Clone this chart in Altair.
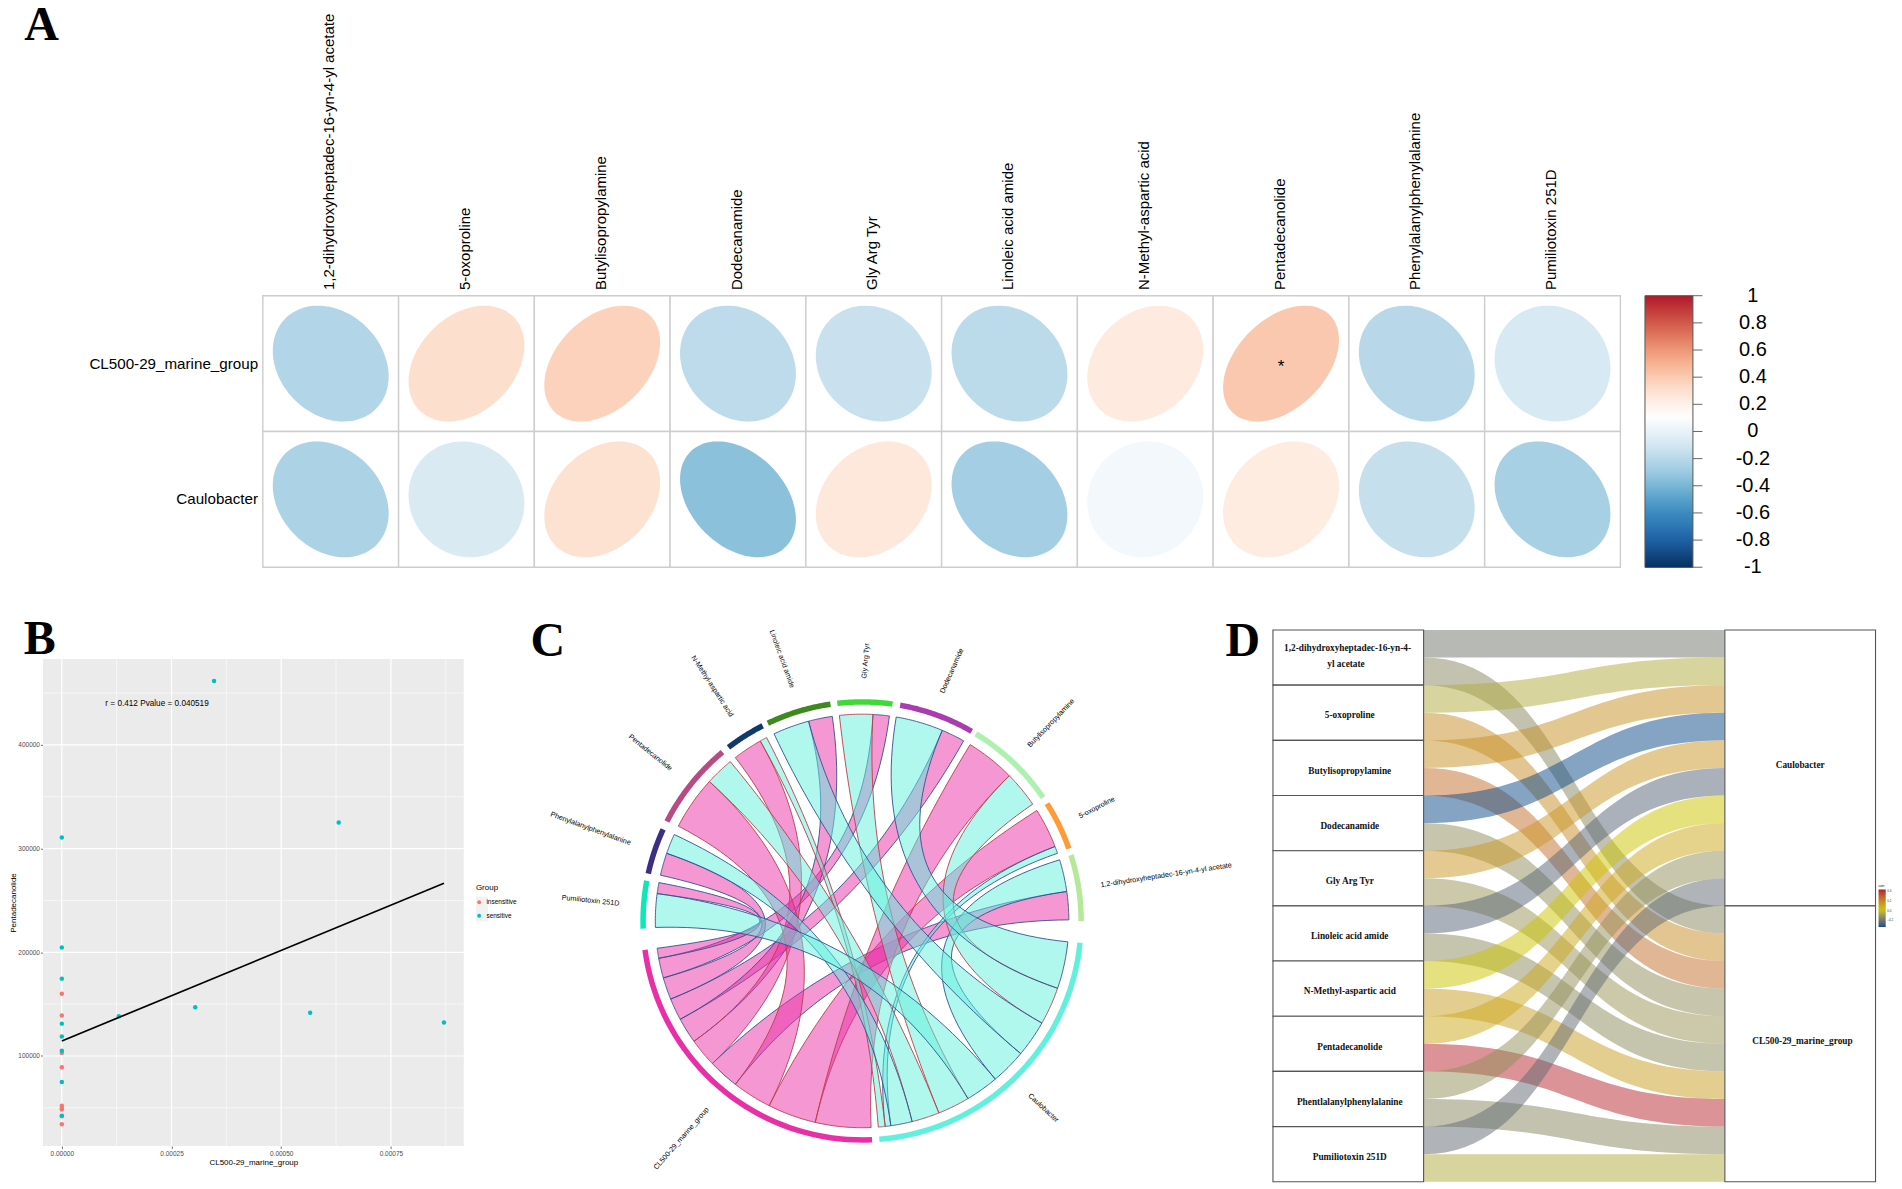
import math
import numpy as np
import pandas as pd
import altair as alt

SANS = "Liberation Sans"
SERIF = "Liberation Serif"

# ---------- data ----------
metabolites = ["1,2-dihydroxyheptadec-16-yn-4-yl acetate", "5-oxoproline", "Butylisopropylamine",
               "Dodecanamide", "Gly Arg Tyr", "Linoleic acid amide", "N-Methyl-aspartic acid",
               "Pentadecanolide", "Phenylalanylphenylalanine", "Pumiliotoxin 251D"]
genera = ["CL500-29_marine_group", "Caulobacter"]
corr_cl500 = [-0.22, 0.31, 0.37, -0.18, -0.14, -0.19, 0.24, 0.41, -0.20, -0.08]
corr_caulo = [-0.24, -0.07, 0.29, -0.35, 0.25, -0.27, 0.05, 0.23, -0.15, -0.255]
corr_stops = [-1, -0.778, -0.556, -0.333, -0.111, 0.111, 0.333, 0.556, 0.778, 1]
corr_colors = ["#053061", "#2166AC", "#4393C3", "#92C5DE", "#D1E5F0", "#FFFFFF", "#FDDBC7", "#F4A582", "#D6604D", "#B2182B"]
bar_ticks = [-1, -0.8, -0.6, -0.4, -0.2, 0, 0.2, 0.4, 0.6, 0.8, 1]
bar_labels = ["-1", "-0.8", "-0.6", "-0.4", "-0.2", "0", "0.2", "0.4", "0.6", "0.8", "1"]

# B: scatter
sens_x = [0.000347, 0.000631, 0.00013, 0.000304, 0.000566, 0.000871, 0, 0, 0, 0, 0, 0, 0, 0]
sens_y = [461500, 325100, 138400, 147100, 141700, 132200, 310600, 204600, 174600, 131200, 118900, 105100, 75000, 42500]
insens_x = [0, 0, 0, 0, 0, 0, 0, 0, 0]
insens_y = [160100, 139100, 103000, 89200, 52000, 49800, 48300, 41800, 34200]
fit_x = [0, 0.000871]
fit_y = [114500, 266500]

# C: chord. Sector limits in degrees, counter-clockwise from the +x axis
sector_names = ["1,2-dihydroxyheptadec-16-yn-4-yl acetate", "5-oxoproline", "Butylisopropylamine", "Dodecanamide",
                "Gly Arg Tyr", "Linoleic acid amide", "N-Methyl-aspartic acid", "Pentadecanolide",
                "Phenylalanylphenylalanine", "Pumiliotoxin 251D", "CL500-29_marine_group", "Caulobacter"]
sector_start = [0, 19.3, 34.3, 60, 82, 98.3, 117, 129.6, 155.3, 169.4, 187.6, 274.5]
sector_end = [17.5, 32.4, 58.7, 80, 96.5, 115.5, 127.6, 153, 167.5, 182, 272.6, 354.3]
sector_colors = ["#B6E89A", "#FF9A38", "#AEF0B0", "#A93DB0", "#3FD93A", "#3E8A1E", "#103A6E", "#B84C82", "#3C2D85",
                 "#0DE8BA", "#E92FA8", "#62F0DE"]
label_x = [304.4, 235, 189.2, 90, 3.7, -80.3, -150, -212, -271.8, -271.8, -180.9, 181.4]
label_y = [45.8, 113.4, 198, 250.4, 260.3, 262.2, 234.9, 168.4, 92.3, 20.3, -217.9, -187.2]
label_angle = [-8.7, -27, -46, -66, -85, 70, 57, 39, 20, 6, -49, 43]
# link ends on the metabolite sector (low, high) and on the genus sector (low, high)
pink_from = [(0.3, 8.2), (21.1, 32.3), (44.6, 58.5), (60.6, 67.2), (82.4, 87), (98.3, 105), (119.5, 127.8), (137.6, 152.7), (160.9, 167.2), (169.3, 172.4)]
pink_to = [(223.6, 232.2), (243.3, 256.9), (256.9, 272.5), (202.2, 208.4), (190.4, 196), (208.4, 215.6), (215.6, 223.6), (232.2, 243.3), (196, 202.2), (187.6, 190.4)]
cyan_from = [(8.2, 17.2), (19.1, 21.1), (34.4, 44.6), (67.2, 80.5), (87, 96.3), (105, 115.2), (117.5, 119.5), (129.6, 137.6), (155.3, 160.9), (172.4, 181.8)]
cyan_to = [(310.1, 320.1), (276.4, 278), (330.4, 341), (341, 354.2), (291.8, 300.8), (320.1, 330.4), (274.5, 276.4), (284, 291.8), (278, 284), (300.8, 310.1)]

# D: alluvial
d_labels = [["1,2-dihydroxyheptadec-16-yn-4-", "yl acetate"], ["5-oxoproline"], ["Butylisopropylamine"], ["Dodecanamide"],
            ["Gly Arg Tyr"], ["Linoleic acid amide"], ["N-Methyl-aspartic acid"], ["Pentadecanolide"],
            ["Phentlalanylphenylalanine"], ["Pumiliotoxin 251D"]]
d_corr_caulo = [-0.20, -0.05, 0.17, -0.335, 0.15, -0.25, 0.02, 0.10, -0.12, -0.23]
d_corr_cl500 = [-0.15, 0.18, 0.26, -0.13, -0.11, -0.14, 0.13, 0.41, -0.15, -0.05]
d_stops = [-0.335, 0.02, 0.43]
d_colors = ["#0B4987", "#CCC400", "#B5172F"]

RIGHT, ROW_TOP, ROW_BOTTOM, PLOT_TOP = 1894, 600, 1182, 658.2


def anchor(px0, py0, px1, py1, vx, vy):
    """Invisible rect that fixes a panel's bounding box on the page."""
    return alt.Chart(pd.DataFrame({"a": [0]})).mark_rect(opacity=0).encode(
        x=alt.value(px0 - vx), x2=alt.value(px1 - vx), y=alt.value(py0 - vy), y2=alt.value(py1 - vy))


def letter(s, px, py, vx, vy):
    return alt.Chart(pd.DataFrame({"t": [s]})).mark_text(
        font=SERIF, fontWeight="bold", fontSize=48, color="black", align="center", baseline="middle"
    ).encode(text="t:N", x=alt.value(px - vx), y=alt.value(py - vy))


# ---------- A ----------
AX, AY, AC = 262.4, 295.4, 135.9
AVX, AVY = 42.3, 8
ax_s = alt.Scale(domain=[(AVX - AX) / AC, (RIGHT - AX) / AC], nice=False, zero=False)
ay_s = alt.Scale(domain=[2 - (ROW_TOP - AY) / AC, 2 + (AY - AVY) / AC], nice=False, zero=False)
cells, ell = [], []
tt = np.linspace(0, 2 * np.pi, 90, endpoint=False)
for r, vals in enumerate([corr_cl500, corr_caulo]):
    for c, v in enumerate(vals):
        cells.append(dict(x0=c, x1=c + 1, y0=2 - r - 1, y1=2 - r))
        d = math.acos(v)
        for k, t in enumerate(tt):
            ell.append(dict(id=f"{r}-{c}", k=k, v=v, x=c + .5 + .4268 * math.cos(t + d / 2),
                            y=1.5 - r + .4268 * math.cos(t - d / 2)))
cell_df = pd.DataFrame(cells)
ell_df = pd.DataFrame(ell)
a_cells = alt.Chart(cell_df).mark_rect(fill="white", stroke="#CDCDCD", strokeWidth=1.4).encode(
    x=alt.X("x0:Q", scale=ax_s, axis=None), x2="x1:Q",
    y=alt.Y("y0:Q", scale=ay_s, axis=None), y2="y1:Q")
a_ell = alt.Chart(ell_df).mark_line(interpolate="linear-closed", strokeWidth=0).encode(
    x=alt.X("x:Q", scale=ax_s, axis=None), y=alt.Y("y:Q", scale=ay_s, axis=None),
    detail="id:N", order="k:Q",
    fill=alt.Fill("v:Q", scale=alt.Scale(domain=corr_stops, range=corr_colors, interpolate="rgb"),
                  legend=alt.Legend(type="gradient", orient="none", legendX=1646 - AVX, legendY=AY - AVY, title=None,
                                    gradientLength=272, gradientThickness=48, values=bar_ticks,
                                    labelExpr="''", labelFontSize=1,
                                    gradientStrokeColor="#555555", gradientStrokeWidth=1, padding=0, labelOverlap=False)))
a_top = alt.Chart(pd.DataFrame({"t": metabolites, "x": [i + .49 for i in range(10)], "y": [2.042] * 10})).mark_text(
    font=SANS, fontSize=15, angle=270, align="left", baseline="middle", color="black"
).encode(text="t:N", x=alt.X("x:Q", scale=ax_s, axis=None), y=alt.Y("y:Q", scale=ay_s, axis=None))
a_left = alt.Chart(pd.DataFrame({"t": genera, "x": [-0.035, -0.035], "y": [1.5, 0.5]})).mark_text(
    font=SANS, fontSize=15.2, align="right", baseline="middle", color="black"
).encode(text="t:N", x=alt.X("x:Q", scale=ax_s, axis=None), y=alt.Y("y:Q", scale=ay_s, axis=None))
a_star = alt.Chart(pd.DataFrame({"t": ["*"], "x": [7.5], "y": [1.475]})).mark_text(
    font=SANS, fontSize=17, align="center", baseline="middle", color="black"
).encode(text="t:N", x=alt.X("x:Q", scale=ax_s, axis=None), y=alt.Y("y:Q", scale=ay_s, axis=None))
bar_df = pd.DataFrame({"y": [1 + v for v in bar_ticks], "t": bar_labels})
a_bar_ticks = alt.Chart(bar_df).mark_rule(color="#666666", strokeWidth=1).encode(
    x=alt.value(1694 - AVX), x2=alt.value(1703.5 - AVX),
    y=alt.Y("y:Q", scale=ay_s, axis=None))
a_bar_text = alt.Chart(bar_df).mark_text(font=SANS, fontSize=20, color="black", align="center", baseline="middle").encode(
    text="t:N", x=alt.value(1754 - AVX), y=alt.Y("y:Q", scale=ay_s, axis=None))
panel_a = alt.layer(
    a_cells, a_ell, a_top, a_left, a_star, a_bar_ticks, a_bar_text,
    letter("A", 41, 25, AVX, AVY)
).properties(width=RIGHT - AVX, height=ROW_TOP - AVY)

# ---------- B ----------
BX, BY, BW, BH = 42.3, PLOT_TOP, 421.2, 487.6
bx_s = alt.Scale(domain=[-0.000043, 0.000916], nice=False, zero=False)
by_s = alt.Scale(domain=[13200, 482850], nice=False, zero=False)
b_xaxis = alt.Axis(
    values=[0, 0.00025, 0.0005, 0.00075], format=".5f", title="CL500-29_marine_group", grid=False,
    domain=False, tickColor="#333333", tickSize=2.5, tickWidth=0.7,
    labelColor="#4D4D4D", labelFontSize=6.5, labelFont=SANS, labelPadding=1.5, titleFont=SANS, titleFontSize=8,
    titleFontWeight="normal", titleColor="black", titlePadding=2, labelFlush=False)
b_yaxis = alt.Axis(
    values=[100000, 200000, 300000, 400000], format="d", title="Pentadecanolide", grid=False,
    domain=False, tickColor="#333333", tickSize=2.5, tickWidth=0.7,
    labelColor="#4D4D4D", labelFontSize=6.5, labelFont=SANS, labelPadding=1, titleFont=SANS, titleFontSize=8,
    titleFontWeight="normal", titleColor="black", titlePadding=0, labelFlush=False)
pts = pd.DataFrame({"x": insens_x + sens_x, "y": insens_y + sens_y,
                    "Group": ["insensitive"] * len(insens_x) + ["sensitive"] * len(sens_x)})
minor_x = pd.DataFrame({"v": [0.000125, 0.000375, 0.000625, 0.000875]})
minor_y = pd.DataFrame({"v": [50000, 150000, 250000, 350000, 450000]})
b_base = alt.Chart(pd.DataFrame({"a": [0]})).mark_rect(fill="#EBEBEB").encode(
    x=alt.value(0), x2=alt.value(BW), y=alt.value(0), y2=alt.value(BH))
b_mx = alt.Chart(minor_x).mark_rule(color="white", strokeWidth=0.6).encode(x=alt.X("v:Q", scale=bx_s, axis=b_xaxis))
b_my = alt.Chart(minor_y).mark_rule(color="white", strokeWidth=0.6).encode(y=alt.Y("v:Q", scale=by_s, axis=b_yaxis))
b_grid_x = alt.Chart(pd.DataFrame({"v": [0, 0.00025, 0.0005, 0.00075]})).mark_rule(color="white", strokeWidth=1.2).encode(
    x=alt.X("v:Q", scale=bx_s, axis=b_xaxis))
b_grid_y = alt.Chart(pd.DataFrame({"v": [100000, 200000, 300000, 400000]})).mark_rule(color="white", strokeWidth=1.2).encode(
    y=alt.Y("v:Q", scale=by_s, axis=b_yaxis))
b_pts = alt.Chart(pts).mark_circle(size=20, opacity=1).encode(
    x=alt.X("x:Q", scale=bx_s, axis=b_xaxis),
    y=alt.Y("y:Q", scale=by_s, axis=b_yaxis),
    color=alt.Color("Group:N", scale=alt.Scale(domain=["insensitive", "sensitive"], range=["#F8766D", "#00BFC4"]),
                    legend=alt.Legend(orient="none", legendX=475.7 - BX, legendY=884 - BY, title="Group", padding=0,
                                      titleFont=SANS, titleFontSize=8, titleFontWeight="normal", titleColor="black",
                                      labelFont=SANS, labelFontSize=6.5, labelColor="black", symbolSize=15,
                                      symbolType="circle", rowPadding=6.5, symbolOffset=0, titlePadding=6.5)))
b_line = alt.Chart(pd.DataFrame({"x": fit_x, "y": fit_y})).mark_line(color="black", strokeWidth=1.7).encode(
    x=alt.X("x:Q", scale=bx_s, axis=b_xaxis), y=alt.Y("y:Q", scale=by_s, axis=b_yaxis))
b_txt = alt.Chart(pd.DataFrame({"t": ["r = 0.412  Pvalue = 0.040519"], "x": [0.000217], "y": [439800]})).mark_text(
    font=SANS, fontSize=8.2, color="black", align="center", baseline="middle"
).encode(text="t:N", x=alt.X("x:Q", scale=bx_s, axis=b_xaxis), y=alt.Y("y:Q", scale=by_s, axis=b_yaxis))
b_key = alt.Chart(pd.DataFrame({"a": [0]})).mark_rect(fill="#F2F2F2").encode(
    x=alt.value(475.7 - BX), x2=alt.value(487.8 - BX), y=alt.value(896 - BY), y2=alt.value(921 - BY))
panel_b = alt.layer(anchor(8, ROW_TOP, 525, ROW_BOTTOM, BX, BY), b_base, b_mx, b_my, b_grid_x, b_grid_y, b_key, b_pts, b_line, b_txt,
                    letter("B", 39, 639, BX, BY)).properties(width=BW, height=BH)

# ---------- C ----------
CCX, CCY, CR = 862, 920.5, 207
CVX, CVR = 525, 1262
CH = ROW_BOTTOM - PLOT_TOP
cxs = alt.Scale(domain=[CVX - CCX, CVR - CCX], nice=False, zero=False)
cys = alt.Scale(domain=[CCY - PLOT_TOP - CH, CCY - PLOT_TOP], nice=False, zero=False)


def arc_pts(a0, a1, r, n=24):
    return [(r * math.cos(math.radians(a)), r * math.sin(math.radians(a))) for a in np.linspace(a0, a1, n)]


def bez(p0, p1, n=40):
    out = []
    for t in np.linspace(0, 1, n)[1:-1]:
        out.append(((1 - t) ** 2 * p0[0] + t ** 2 * p1[0], (1 - t) ** 2 * p0[1] + t ** 2 * p1[1]))
    return out


polys = []


def add_poly(name, pp, fill, edge):
    for k, (x, y) in enumerate(pp):
        polys.append(dict(id=name, k=k, x=x, y=y, f=fill, e=edge))


def ribbon(a, b):
    A = arc_pts(a[0], a[1], CR)
    B = arc_pts(b[0], b[1], CR)
    return A + bez(A[-1], B[0]) + B + bez(B[-1], A[0])


EDGE_POS, EDGE_NEG = "#B8404A", "#33508F"
count = 0
for i in range(10):
    add_poly(f"p{count:02d}", ribbon(pink_from[i], pink_to[i]), "#E92FA8", EDGE_POS if corr_cl500[i] > 0 else EDGE_NEG)
    count += 1
for i in range(10):
    add_poly(f"p{count:02d}", ribbon(cyan_from[i], cyan_to[i]), "#62F0DE", EDGE_POS if corr_caulo[i] > 0 else EDGE_NEG)
    count += 1
ribbon_df = pd.DataFrame(polys)
c_rib = alt.Chart(ribbon_df).mark_line(interpolate="linear-closed", fillOpacity=0.5, strokeWidth=0.9).encode(
    x=alt.X("x:Q", scale=cxs, axis=None), y=alt.Y("y:Q", scale=cys, axis=None),
    detail="id:N", order="k:Q", fill=alt.Fill("f:N", scale=None), stroke=alt.Stroke("e:N", scale=None))
polys = []
for i in range(12):
    outer = arc_pts(sector_start[i], sector_end[i], 222, 40)
    inner = arc_pts(sector_end[i], sector_start[i], 216.5, 40)
    add_poly(f"t{i:02d}", outer + inner, sector_colors[i], sector_colors[i])
track_df = pd.DataFrame(polys)
c_track = alt.Chart(track_df).mark_line(interpolate="linear-closed", strokeWidth=0).encode(
    x=alt.X("x:Q", scale=cxs, axis=None), y=alt.Y("y:Q", scale=cys, axis=None),
    detail="id:N", order="k:Q", fill=alt.Fill("f:N", scale=None))
c_lab = alt.Chart(pd.DataFrame({"t": sector_names, "x": label_x, "y": label_y, "a": [(v + 360) % 360 for v in label_angle]})).mark_text(
    font=SANS, fontSize=7.2, color="black", align="center", baseline="middle"
).encode(text="t:N", x=alt.X("x:Q", scale=cxs, axis=None), y=alt.Y("y:Q", scale=cys, axis=None),
         angle=alt.Angle("a:Q", scale=None))
panel_c = alt.layer(anchor(CVX, ROW_TOP, CVR, PLOT_TOP, CVX, PLOT_TOP), c_rib, c_track, c_lab,
                    letter("C", 547.5, 641, CVX, PLOT_TOP), letter("D", 1243, 641, CVX, PLOT_TOP)
                    ).properties(width=CVR - CVX, height=CH)

# ---------- D ----------
DX, DY, DU, DV = 1273.3, 629.2, 150.8, 27.62
DVX = CVR
dxs = alt.Scale(domain=[(DVX - DX) / DU, (RIGHT - DX) / DU], nice=False, zero=False)
dys = alt.Scale(domain=[(ROW_BOTTOM - DY) / DV, (PLOT_TOP - DY) / DV], nice=False, zero=False)
flows = []
ss = np.linspace(0, 1, 41)
for i in range(10):
    for j, (targ, vv) in enumerate([(i, d_corr_caulo[i]), (10 + i, d_corr_cl500[i])]):
        src = 2 * i + j
        for s in ss:
            u = 3 * s ** 2 - 2 * s ** 3
            p = 3 * (1 - s) ** 2 * s * .5 + 3 * (1 - s) * s ** 2 * .5 + s ** 3
            flows.append(dict(id=f"f{j}{i:02d}", x=1 + 2 * p, y0=src + (targ - src) * u, y1=src + 1 + (targ - src) * u, v=vv))
flow_df = pd.DataFrame(flows)
d_flow = alt.Chart(flow_df).mark_area(fillOpacity=0.5, strokeWidth=0).encode(
    x=alt.X("x:Q", scale=dxs, axis=None), y=alt.Y("y0:Q", scale=dys, axis=None), y2="y1:Q",
    detail="id:N",
    fill=alt.Fill("v:Q", scale=alt.Scale(domain=d_stops, range=d_colors, interpolate="lab"),
                  legend=alt.Legend(type="gradient", orient="none", legendX=1879.5 - DVX, legendY=884 - PLOT_TOP, title="corr", padding=0,
                                    gradientLength=37.6, gradientThickness=7.2, values=[-0.2, 0, 0.2, 0.4], format=".1f",
                                    titleFont=SANS, titleFontSize=3.5, titleFontWeight="normal", titleColor="black", titlePadding=1.5,
                                    labelFont=SANS, labelFontSize=3, labelColor="#333333", labelOffset=1.5,
                                    labelOverlap=False)))
box_rows = [dict(x0=0, x1=1, y0=2 * i, y1=2 * i + 2) for i in range(10)] + [dict(x0=3, x1=4, y0=0, y1=10), dict(x0=3, x1=4, y0=10, y1=20)]
d_box = alt.Chart(pd.DataFrame(box_rows)).mark_rect(fill="white", stroke="#555555", strokeWidth=1.1).encode(
    x=alt.X("x0:Q", scale=dxs, axis=None), x2="x1:Q", y=alt.Y("y0:Q", scale=dys, axis=None), y2="y1:Q")
txt = []
for i, parts in enumerate(d_labels):
    yc = 2 * i + 1.1
    if len(parts) == 2:
        txt += [dict(t=parts[0], x=.495, y=yc - .45), dict(t=parts[1], x=.485, y=yc + .15)]
    else:
        txt.append(dict(t=parts[0], x=.51, y=yc))
txt += [dict(t="Caulobacter", x=3.5, y=4.9), dict(t="CL500-29_marine_group", x=3.515, y=14.9)]
d_txt = alt.Chart(pd.DataFrame(txt)).mark_text(font=SERIF, fontWeight="bold", fontSize=9.3, color="#111111",
                                               align="center", baseline="middle").encode(
    text="t:N", x=alt.X("x:Q", scale=dxs, axis=None), y=alt.Y("y:Q", scale=dys, axis=None))
panel_d = alt.layer(anchor(DVX, ROW_TOP, RIGHT, PLOT_TOP, DVX, PLOT_TOP), d_flow, d_box, d_txt
                    ).properties(width=RIGHT - DVX, height=ROW_BOTTOM - PLOT_TOP)

row = alt.hconcat(panel_b, panel_c, panel_d, spacing=0).resolve_scale(fill="independent", color="independent", stroke="independent")
chart = alt.vconcat(panel_a, row, spacing=0, padding={"left": 0, "right": 0, "bottom": 0, "top": -7}, background="white").resolve_scale(
    fill="independent", color="independent", stroke="independent").configure_view(stroke=None)
chart.save("out.html", embed_options={"renderer": "svg", "actions": False})
